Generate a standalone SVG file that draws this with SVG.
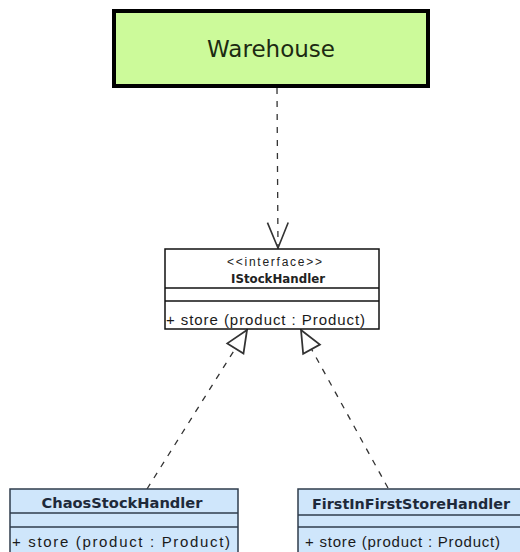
<svg xmlns="http://www.w3.org/2000/svg" width="520" height="552" viewBox="0 0 520 552">
<style>
.cls{fill:#cfe6fb;stroke:#2f3d4c;stroke-width:1.5}
.div{stroke:#2f3d4c;stroke-width:1.5}
.ifc{fill:#ffffff;stroke:#111;stroke-width:1.5}
.idiv{stroke:#111;stroke-width:1.5}
.name{font-family:"DejaVu Sans",Verdana,sans-serif;font-weight:bold;font-size:14px;fill:#1e2a3a}
.mem{font-family:"Liberation Sans",Arial,sans-serif;font-size:15px;fill:#1a1a1a}
.dash{fill:none;stroke:#333;stroke-width:1.3;stroke-dasharray:6 7}
</style>
<defs>
<marker id="open" markerUnits="userSpaceOnUse" markerWidth="30" markerHeight="30" viewBox="-24 -12 26 24" refX="0" refY="0" orient="auto">
<path d="M-22,-9 L0,0 L-22,9" fill="none" stroke="#333" stroke-width="1.4"/>
</marker>
<marker id="tri" markerUnits="userSpaceOnUse" markerWidth="30" markerHeight="30" viewBox="-20 -10 22 20" refX="0" refY="0" orient="auto">
<path d="M0,0 L-16,-7 L-16,7 Z" fill="#fff" stroke="#333" stroke-width="1.3"/>
</marker>
</defs>
<g id="connectors">
<path class="dash" d="M277,88 L278,248" marker-end="url(#open)"/>
<path class="dash" d="M147,489 L247,330" marker-end="url(#tri)"/>
<path class="dash" d="M388,488 L301,330" marker-end="url(#tri)"/>
</g>
<g id="Warehouse">
<rect x="114" y="11" width="314" height="75" fill="#ccfa9a" stroke="#000" stroke-width="4"/>
<text x="271" y="57" text-anchor="middle" font-family="'DejaVu Sans',Verdana,sans-serif" font-size="23" fill="#1c2a12" textLength="128" lengthAdjust="spacingAndGlyphs">Warehouse</text>
</g>
<g id="IStockHandler">
<rect class="ifc" x="165" y="249" width="214" height="80"/>
<line class="idiv" x1="165" y1="288" x2="379" y2="288"/>
<line class="idiv" x1="165" y1="301" x2="379" y2="301"/>
<text x="274.5" y="266" text-anchor="middle" font-family="'Liberation Sans',Arial,sans-serif" font-size="12" fill="#222" textLength="95" lengthAdjust="spacing">&lt;&lt;interface&gt;&gt;</text>
<text x="278" y="283" text-anchor="middle" font-family="'DejaVu Sans',Verdana,sans-serif" font-weight="bold" font-size="13" fill="#222" textLength="94" lengthAdjust="spacingAndGlyphs">IStockHandler</text>
<text class="mem" x="166" y="325" textLength="199" lengthAdjust="spacing">+ store (product : Product)</text>
</g>
<g id="ChaosStockHandler">
<rect class="cls" x="10" y="489" width="228" height="70"/>
<line class="div" x1="10" y1="513" x2="238" y2="513"/>
<line class="div" x1="10" y1="527" x2="238" y2="527"/>
<text class="name" x="122" y="508" text-anchor="middle" textLength="161" lengthAdjust="spacingAndGlyphs">ChaosStockHandler</text>
<text class="mem" x="12" y="547" font-size="16" textLength="218" lengthAdjust="spacing">+ store (product : Product)</text>
</g>
<g id="FirstInFirstStoreHandler">
<rect class="cls" x="298" y="489" width="230" height="70"/>
<line class="div" x1="298" y1="515" x2="520" y2="515"/>
<line class="div" x1="298" y1="527" x2="520" y2="527"/>
<text class="name" x="411" y="509" text-anchor="middle" textLength="198" lengthAdjust="spacingAndGlyphs">FirstInFirstStoreHandler</text>
<text class="mem" x="305" y="547" textLength="195" lengthAdjust="spacing">+ store (product : Product)</text>
</g>
</svg>
